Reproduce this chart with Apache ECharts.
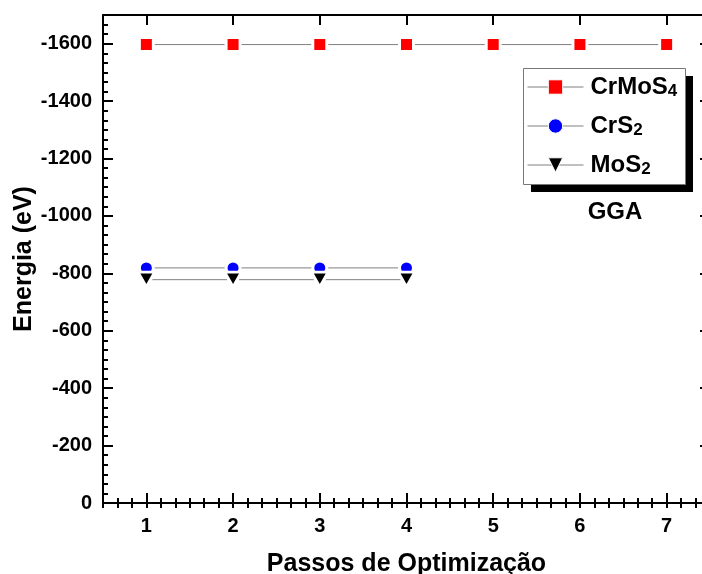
<!DOCTYPE html>
<html><head><meta charset="utf-8">
<script src="https://cdn.jsdelivr.net/npm/echarts@6/dist/echarts.min.js"></script>
<style>html,body{margin:0;padding:0;background:#fff}#c{width:702px;height:574px}</style>
</head><body><div id="c"></div>
<script>
// ---- data ----
const steps = [1, 2, 3, 4, 5, 6, 7];
const crmos4Steps = [1, 2, 3, 4, 5, 6, 7];
const crmos4Energy = [-1597, -1597, -1597, -1597, -1597, -1597, -1597];
const crs2Steps = [1, 2, 3, 4];
const crs2Energy = [-819, -819, -819, -819];
const mos2Steps = [1, 2, 3, 4];
const mos2Energy = [-778, -778, -778, -778];
const yTickValues = [0, -200, -400, -600, -800, -1000, -1200, -1400, -1600];
const seriesNames = ['CrMoS4', 'CrS2', 'MoS2'];
const xTitle = 'Passos de Optimização';
const yTitle = 'Energia (eV)';
const noteText = 'GGA';

// ---- styling ----
const FONT = "'Liberation Sans', Arial, Helvetica, sans-serif";
const X_MIN = 0.5, X_MAX = 7.5, Y_MIN = -1700, Y_MAX = 0;
const black2 = { color: '#000', width: 2 };
const lineGray = '#808080';

function pairs(xs, ys) { return xs.map((x, i) => [x, ys[i]]); }

function xAxisMajor(pos, withLabels) {
  return {
    type: 'value', position: pos, min: X_MIN, max: X_MAX,
    axisLine: { show: true, onZero: false, lineStyle: black2 },
    axisTick: { show: true, inside: true, length: 10, customValues: steps, lineStyle: black2 },
    axisLabel: withLabels ? {
      show: true, customValues: steps, margin: 13, color: '#000',
      fontSize: 20, fontWeight: 'bold', fontFamily: FONT,
      formatter: v => String(v)
    } : { show: false },
    splitLine: { show: false },
    name: withLabels ? xTitle : '',
    nameLocation: 'middle', nameGap: 49,
    nameTextStyle: { color: '#000', fontSize: 25, fontWeight: 'bold', fontFamily: FONT }
  };
}
function xAxisMinor(pos) {
  return {
    type: 'value', position: pos, min: X_MIN, max: X_MAX, interval: 1 / 6,
    axisLine: { show: false },
    axisTick: { show: true, inside: true, length: 5, lineStyle: black2 },
    axisLabel: { show: false }, splitLine: { show: false }
  };
}
function yAxisMajor(pos, withLabels) {
  return {
    type: 'value', position: pos, inverse: true, min: Y_MIN, max: Y_MAX,
    axisLine: { show: true, onZero: false, lineStyle: black2 },
    axisTick: { show: true, inside: true, length: 10, customValues: yTickValues, lineStyle: black2 },
    axisLabel: withLabels ? {
      show: true, customValues: yTickValues, margin: 11, color: '#000',
      fontSize: 20, fontWeight: 'bold', fontFamily: FONT,
      formatter: v => String(v)
    } : { show: false },
    splitLine: { show: false },
    name: withLabels ? yTitle : '',
    nameLocation: 'middle', nameGap: 66, nameRotate: 90, nameMoveOverlap: false,
    nameTextStyle: { color: '#000', fontSize: 25, fontWeight: 'bold', fontFamily: FONT }
  };
}
function yAxisMinor(pos) {
  return {
    type: 'value', position: pos, inverse: true, min: Y_MIN, max: Y_MAX, interval: 100 / 3,
    axisLine: { show: false },
    axisTick: { show: true, inside: true, length: 5, lineStyle: black2 },
    axisLabel: { show: false }, splitLine: { show: false }
  };
}

function lineSeries(name, data, symbol, color, rotate, size) {
  return {
    name: name, type: 'line', xAxisIndex: 0, yAxisIndex: 0, data: data,
    symbol: symbol, symbolSize: size, symbolRotate: rotate, showSymbol: true,
    lineStyle: { color: lineGray, width: 1 },
    itemStyle: { color: color, borderColor: '#fff', borderWidth: 3 },
    emphasis: { disabled: true }, silent: true, z: 3
  };
}

const chart = echarts.init(document.getElementById('c'), null, { renderer: 'canvas' });
chart.setOption({
  animation: false,
  backgroundColor: '#fff',
  textStyle: { fontFamily: FONT },
  grid: { left: 103, top: 15, width: 607, height: 488, containLabel: false, outerBoundsMode: 'none' },
  xAxis: [xAxisMajor('bottom', true), xAxisMajor('top', false), xAxisMinor('top'), xAxisMinor('bottom')],
  yAxis: [yAxisMajor('left', true), yAxisMajor('right', false), yAxisMinor('right'), yAxisMinor('left')],
  legend: {
    show: true, orient: 'vertical', left: 527, top: 75, z: 10,
    data: seriesNames, itemWidth: 56, itemHeight: 18, itemGap: 14,
    padding: 0,
    backgroundColor: 'transparent', borderWidth: 0,
    itemStyle: { borderColor: '#fff', borderWidth: 1 },
    lineStyle: { color: lineGray, width: 1 },
    formatter: function (name) {
      const m = name.match(/^(.*?)(\d+)$/);
      return m ? '{m|' + m[1] + '}{s|' + m[2] + '}' : '{m|' + name + '}';
    },
    textStyle: {
      color: '#000',
      rich: {
        m: { fontSize: 24, fontWeight: 'bold', fontFamily: FONT, lineHeight: 26, color: '#000', padding: [0, 0, 0, 2] },
        s: { fontSize: 17, fontWeight: 'bold', fontFamily: FONT, lineHeight: 2, verticalAlign: 'bottom', color: '#000' }
      }
    }
  },
  graphic: [
    { type: 'rect', z: 1, silent: true, shape: { x: 531, y: 76, width: 162, height: 116 }, style: { fill: '#000' } },
    { type: 'rect', z: 2, silent: true, shape: { x: 523.5, y: 68.5, width: 162, height: 116 }, style: { fill: '#fff', stroke: '#777', lineWidth: 1 } },
    { type: 'text', x: 615, y: 212, silent: true,
      style: { text: noteText, font: "bold 24px " + FONT, fill: '#000', align: 'center', verticalAlign: 'middle' } }
  ],
  series: [
    lineSeries(seriesNames[0], pairs(crmos4Steps, crmos4Energy), 'rect', '#ff0000', 0, 14),
    lineSeries(seriesNames[1], pairs(crs2Steps, crs2Energy), 'circle', '#0000ff', 0, 14),
    lineSeries(seriesNames[2], pairs(mos2Steps, mos2Energy), 'triangle', '#000000', 180, [17, 15])
  ]
});
</script></body></html>
